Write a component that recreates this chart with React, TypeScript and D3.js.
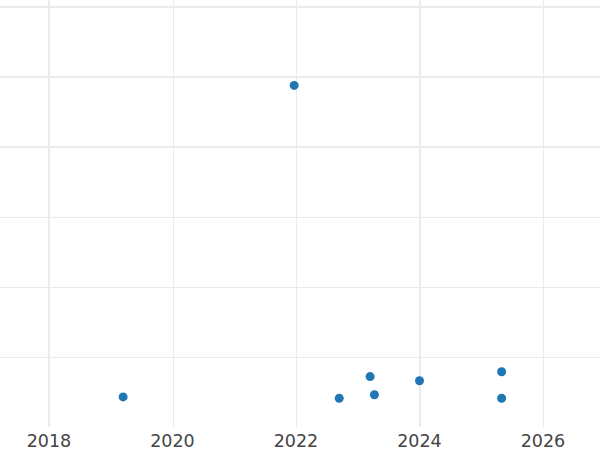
import React from "react";
import * as d3 from "d3";

const xTicks = [2018, 2020, 2022, 2024, 2026];
const yTicks = [10, 20, 30, 40, 50, 60];
const pointYears = [2019.2, 2021.97, 2022.7, 2023.2, 2023.27, 2024.0, 2025.33, 2025.33];
const pointValues = [4.3, 48.8, 4.1, 7.2, 4.6, 6.6, 7.9, 4.1];

const W = 600;
const H = 450;

export default function App() {
  const x = d3.scaleLinear().domain([2018, 2026]).range([49, 543]);
  const y = d3.scaleLinear().domain([0, 60]).range([427, 7]);
  return (
    <svg width={W} height={H} style={{ position: "absolute", left: 0, top: 0, background: "#fff" }}>
      <g>
        {yTicks.map((t, i) => {
          const thick = i >= 3;
          const yy = thick ? Math.round(y(t)) : Math.round(y(t)) + 0.5;
          return <line key={"y" + t} x1={0} x2={W} y1={yy} y2={yy} stroke="#ebebeb" strokeWidth={thick ? 2 : 1} />;
        })}
        {xTicks.map((t, i) => {
          const thick = i === 0 || i === 3;
          const xx = thick ? Math.round(x(t)) : Math.round(x(t)) + 0.5;
          return <line key={"x" + t} x1={xx} x2={xx} y1={0} y2={427} stroke="#ebebeb" strokeWidth={thick ? 2 : 1} />;
        })}
      </g>
      <g>
        {pointYears.map((yr, i) => (
          <circle key={i} cx={x(yr)} cy={y(pointValues[i])} r={4.5} fill="#1f77b4" />
        ))}
      </g>
      <g fontFamily="DejaVu Sans, sans-serif" fontSize={17.5} fill="#444" textAnchor="middle">
        {xTicks.map((t) => (
          <text key={t} x={x(t)} y={447}>{t}</text>
        ))}
      </g>
    </svg>
  );
}
